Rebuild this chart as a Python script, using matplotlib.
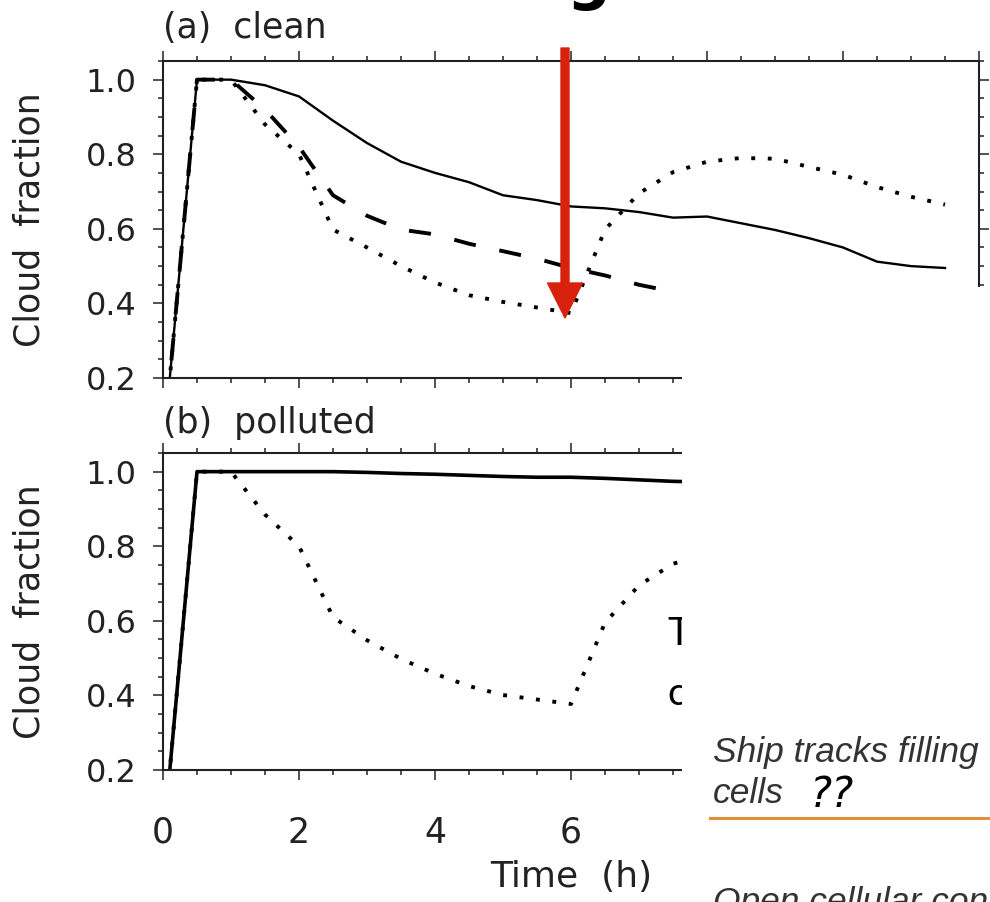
import matplotlib
matplotlib.use('Agg')
import matplotlib.pyplot as plt
from matplotlib.patches import Rectangle, FancyArrow
from matplotlib.ticker import MultipleLocator, FormatStrFormatter

# ---- data (time in hours, cloud fraction) ----
t_clean = [0.0, 0.5, 1.0, 1.5, 2.0, 2.5, 3.0, 3.5, 4.0, 4.5, 5.0, 5.5,
           6.0, 6.5, 7.0, 7.5, 8.0, 8.5, 9.0, 9.5, 10.0, 10.5, 11.0, 11.5]
clean_solid = [0.0, 1.0, 1.0, 0.985, 0.955, 0.89, 0.83, 0.78, 0.75, 0.725, 0.69, 0.677,
               0.66, 0.655, 0.645, 0.63, 0.633, 0.615, 0.597, 0.575, 0.55, 0.512, 0.50, 0.495]
clean_dotted = [0.0, 1.0, 1.0, 0.88, 0.80, 0.598, 0.55, 0.50, 0.456, 0.422, 0.404, 0.389,
                0.374, 0.598, 0.695, 0.752, 0.78, 0.79, 0.788, 0.766, 0.745, 0.712, 0.686, 0.665]

t_clean_dash = [0.0, 0.5, 1.0, 1.5, 2.0, 2.5, 3.0, 3.5, 4.0, 4.5, 5.0, 5.5, 6.0, 6.5, 7.0, 7.4]
clean_dashed = [0.0, 1.0, 1.0, 0.92, 0.82, 0.69, 0.635, 0.598, 0.585, 0.56, 0.54, 0.52,
                0.495, 0.475, 0.45, 0.435]

t_poll = [0.0, 0.5, 1.0, 1.5, 2.0, 2.5, 3.0, 3.5, 4.0, 4.5, 5.0, 5.5, 6.0, 6.5, 7.0, 7.5, 8.0]
poll_solid = [0.0, 1.0, 1.0, 1.0, 1.0, 1.0, 0.998, 0.995, 0.993, 0.99, 0.987, 0.985,
              0.985, 0.982, 0.978, 0.974, 0.972]
poll_dotted = [0.0, 1.0, 1.0, 0.885, 0.80, 0.61, 0.548, 0.498, 0.458, 0.425, 0.401, 0.389,
               0.377, 0.595, 0.695, 0.753, 0.778]

W, H = 990, 902
fig = plt.figure(figsize=(W / 100, H / 100), dpi=100)

DOTS = (0, (1, 3.25))
DASHES = (0, (5.7, 6.2))


def px_axes(left, top, right, bottom):
    return fig.add_axes([left / W, 1 - bottom / H, (right - left) / W, (bottom - top) / H])


def style(ax, title, title_off):
    ax.set_xlim(0, 12)
    ax.set_ylim(0.2, 1.05)
    ax.xaxis.set_major_locator(MultipleLocator(2))
    ax.xaxis.set_minor_locator(MultipleLocator(0.5))
    ax.yaxis.set_major_locator(MultipleLocator(0.2))
    ax.yaxis.set_minor_locator(MultipleLocator(0.05))
    ax.yaxis.set_major_formatter(FormatStrFormatter('%.1f'))
    ax.tick_params(which='both', direction='out', top=True, right=True, width=1.1, color='#222222')
    ax.tick_params(which='major', length=7)
    ax.tick_params(which='minor', length=3.5)
    ax.tick_params(axis='y', labelsize=23, pad=12, labelcolor='#222222')
    ax.tick_params(axis='x', labelsize=25, pad=26, labelcolor='#222222')
    for s in ax.spines.values():
        s.set_linewidth(1.5)
        s.set_color('#222222')
    ax.set_ylabel('Cloud  fraction', fontsize=25, color='#222222')
    ax.yaxis.set_label_coords(-0.143, 0.5)
    ax.text(0, 1 + title_off, title, transform=ax.transAxes, fontsize=25,
            va='baseline', ha='left', color='#222222')


ax_a = px_axes(163, 61, 979, 378)
ax_b = px_axes(163, 453, 979, 770)
style(ax_a, '(a)  clean', 0.072)
style(ax_b, '(b)  polluted', 0.063)

ax_a.plot(t_clean, clean_solid, color='black', lw=1.7)
ax_a.plot(t_clean_dash, clean_dashed, color='black', lw=2.8, linestyle=DASHES)
ax_a.plot(t_clean, clean_dotted, color='black', lw=2.8, linestyle=DOTS)
ax_a.set_xticklabels([])

ax_b.plot(t_poll, poll_solid, color='black', lw=2.6)
ax_b.plot(t_poll, poll_dotted, color='black', lw=2.8, linestyle=DOTS)
ax_b.text(0.5, -117 / 317, 'Time  (h)', transform=ax_b.transAxes, fontsize=26,
          ha='center', va='baseline', color='#222222')

# slide elements laid over the chart
fig.text(667 / W, 1 - 645 / H, 'T', fontsize=28, family='Lato', color='black',
         va='baseline', zorder=4)
fig.text(667 / W, 1 - 705 / H, 'c', fontsize=28, family='Lato', color='black',
         va='baseline', zorder=4)
fig.add_artist(Rectangle((682 / W, 0), (W - 682) / W, (H - 287) / H,
                         transform=fig.transFigure, facecolor='white',
                         edgecolor='none', zorder=5))
fig.text(713 / W, 1 - 762 / H, 'Ship tracks filling', fontsize=25.5,
         family='Liberation Sans', style='italic', color='#333333', va='baseline', zorder=6)
fig.text(713 / W, 1 - 803 / H, 'cells', fontsize=25.5,
         family='Liberation Sans', style='italic', color='#333333', va='baseline', zorder=6)
fig.text(810 / W, 1 - 807 / H, '??', fontsize=30, family='DejaVu Sans', style='italic',
         color='black', va='baseline', zorder=6)
fig.add_artist(plt.Line2D([710 / W, 1.0], [1 - 818 / H, 1 - 818 / H],
                          transform=fig.transFigure, color='#e0923a', lw=2.2, zorder=6))
fig.text(713 / W, 1 - 912 / H, 'Open cellular convection', fontsize=25.5,
         family='Liberation Sans', style='italic', color='#333333', va='baseline', zorder=6)
fig.text(588 / W, 1 + 2 / H, 'g', fontsize=44, family='DejaVu Sans', weight='bold',
         color='black', ha='center', va='baseline', zorder=6)

# red arrow
fig.add_artist(FancyArrow(565 / W, 1 - 48 / H, 0, -(318 - 48) / H,
                          width=8 / W, head_width=35 / W, head_length=35 / H,
                          length_includes_head=True, transform=fig.transFigure,
                          color='#d8220e', zorder=7))

fig.savefig('out.png', dpi=100)
